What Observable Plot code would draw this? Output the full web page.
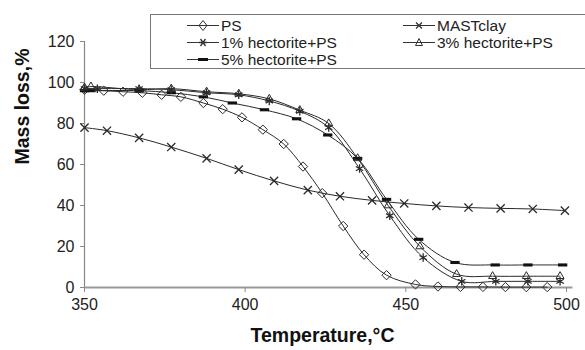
<!DOCTYPE html>
<html><head><meta charset="utf-8">
<script src="https://cdn.jsdelivr.net/npm/d3@7"></script>
<script src="https://cdn.jsdelivr.net/npm/@observablehq/plot@0.6"></script>
<style>
body{margin:0;background:#fff;font-family:"Liberation Sans",Arial,sans-serif;}
#wrap{position:relative;width:585px;height:350px;overflow:hidden;}
#legend{position:absolute;left:150px;top:14px;width:438px;height:55px;border:1px solid #777;box-sizing:border-box;background:#fff;font-size:15.5px;color:#222;}
.item{position:absolute;display:flex;align-items:center;height:17px;}
.item svg{margin-right:2px;}
</style></head>
<body><div id="wrap"><div id="chart"></div><div id="legend"></div></div>
<script>
// ---- data ----
const seriesNames = ["PS", "MASTclay", "1% hectorite+PS", "3% hectorite+PS", "5% hectorite+PS"];

const psTemp = [350,356,362,368,374,380,387,393,399,405.5,412,418,424,430.5,437,444,453,460,467,474,481,487.5,494];
const psMass = [96.5,96,95.5,95,94,93,90,87,83,77,70,59,46,30,16,6,1.5,0.5,0.3,0.3,0.2,0.2,0.2];

const mastTemp = [350,357,367,377,388,398,409,419.5,429.5,439.5,449.5,459.5,469.5,479.5,489.5,499.5];
const mastMass = [78,76.5,73,68.5,63,57.5,52,47.5,44.5,42.5,41,39.8,39,38.6,38.3,37.5];

const h1Temp = [350,354,367,377,388,398,407.5,417,426,435.6,445,455.4,467.4,478,488,498];
const h1Mass = [97,97,97,96.5,95,94,91,86,78,58,35,14.6,3,3,3,3];

const h3Temp = [350,352,367,377,388,398,407.5,417,426,435,444.5,454.4,465.8,477,487.5,498];
const h3Mass = [97.5,98,96.5,97,95.5,94.5,92,86.5,80,63,40,20,6.5,5.5,5.5,5.5];

const h5Temp = [350,352,367,377,387,396,406,416,425.7,435,444,454,465.3,477.8,488,498.8];
const h5Mass = [96,96,96,95,93,90,86.7,82.3,74.4,63,43,23.5,12.2,11,11,11];

const xTicks = [350,400,450,500];
const yTicks = [0,20,40,60,80,100,120];

// ---- build table ----
const toRows = (name, ts, ms) => ts.map((t, i) => ({series: name, t, m: ms[i]}));
const ps = toRows(seriesNames[0], psTemp, psMass);
const mast = toRows(seriesNames[1], mastTemp, mastMass);
const h1 = toRows(seriesNames[2], h1Temp, h1Mass);
const h3 = toRows(seriesNames[3], h3Temp, h3Mass);
const h5 = toRows(seriesNames[4], h5Temp, h5Mass);

const dash = {draw(ctx, size){ const w = Math.sqrt(size) * 1.5, h = Math.sqrt(size) * 0.5; ctx.rect(-w/2, -h/2, w, h); }};

const lineColor = "#2a2a2a";
const curve = "catmull-rom";
const lineOpts = {x: "t", y: "m", stroke: lineColor, strokeWidth: 1, curve};

const chart = Plot.plot({
  width: 585, height: 350,
  marginLeft: 84, marginRight: 19, marginTop: 41, marginBottom: 63,
  style: {fontFamily: "Liberation Sans, Arial, sans-serif", fontSize: "16px", color: "#222", background: "#fff"},
  x: {domain: [350, 500]},
  y: {domain: [0, 120]},
  marks: [
    Plot.ruleX([350], {y1: 0, y2: 120, stroke: "#888", strokeWidth: 1.2}),
    Plot.ruleY([0], {x1: 350, x2: 502, stroke: "#999", strokeWidth: 2}),
    Plot.axisX({ticks: xTicks, tickSize: 5, tickPadding: 6, label: null, stroke: "#888", fill: "#222", fontSize: 16}),
    Plot.axisY({ticks: yTicks, tickSize: 4, tickPadding: 6, label: null, stroke: "#888", fill: "#222", fontSize: 16}),
    Plot.line(mast, lineOpts),
    Plot.line(ps, lineOpts),
    Plot.line(h5, lineOpts),
    Plot.line(h3, lineOpts),
    Plot.line(h1, lineOpts),
    Plot.dot(mast, {x: "t", y: "m", symbol: "times", r: 3.8, stroke: lineColor, strokeWidth: 1.3}),
    Plot.dot(ps, {x: "t", y: "m", symbol: "diamond2", r: 4.2, stroke: lineColor, strokeWidth: 1, fill: "none"}),
    Plot.dot(h5, {x: "t", y: "m", symbol: dash, r: 3.5, fill: "#111", stroke: "none"}),
    Plot.dot(h3, {x: "t", y: "m", symbol: "triangle2", r: 3.8, stroke: lineColor, strokeWidth: 1, fill: "none"}),
    Plot.dot(h1, {x: "t", y: "m", symbol: "asterisk", r: 4, stroke: lineColor, strokeWidth: 1.3}),
    Plot.text(["Temperature,°C"], {frameAnchor: "bottom", dx: -3, dy: 54, fontSize: 19.5, fontWeight: "bold", fill: "#111"}),
    Plot.text(["Mass loss,%"], {frameAnchor: "left", dx: -62, rotate: -90, fontSize: 19.5, fontWeight: "bold", fill: "#111"})
  ]
});
document.getElementById("chart").appendChild(chart);

// ---- legend ----
const legendItems = [
  {name: seriesNames[0], sym: "diamond", left: 36, top: 2},
  {name: seriesNames[1], sym: "times", left: 252, top: 2},
  {name: seriesNames[2], sym: "asterisk", left: 36, top: 19},
  {name: seriesNames[3], sym: "triangle", left: 252, top: 19},
  {name: seriesNames[4], sym: "dash", left: 36, top: 36}
];
const symSvg = s => {
  const c = "#333";
  let m = "";
  if (s === "diamond") m = `<path d="M16,3.5 L20,8.5 L16,13.5 L12,8.5 Z" fill="none" stroke="${c}"/>`;
  if (s === "times") m = `<path d="M13,5.5 L19,11.5 M19,5.5 L13,11.5" stroke="${c}" stroke-width="1.3"/>`;
  if (s === "asterisk") m = `<path d="M12,8.5 L20,8.5 M13.5,5 L18.5,12 M18.5,5 L13.5,12" stroke="${c}" stroke-width="1.3"/>`;
  if (s === "triangle") m = `<path d="M16,4.5 L19.5,11.5 L12.5,11.5 Z" fill="none" stroke="${c}"/>`;
  if (s === "dash") m = `<rect x="11" y="7" width="10" height="3" fill="#111"/>`;
  return `<svg width="32" height="17"><line x1="0" y1="8.5" x2="32" y2="8.5" stroke="${c}" stroke-width="1"/>${m}</svg>`;
};
const lg = document.getElementById("legend");
legendItems.forEach(it => {
  const d = document.createElement("div");
  d.className = "item";
  d.style.left = it.left + "px";
  d.style.top = it.top + "px";
  d.innerHTML = symSvg(it.sym) + `<span>${it.name}</span>`;
  lg.appendChild(d);
});
</script></body></html>
